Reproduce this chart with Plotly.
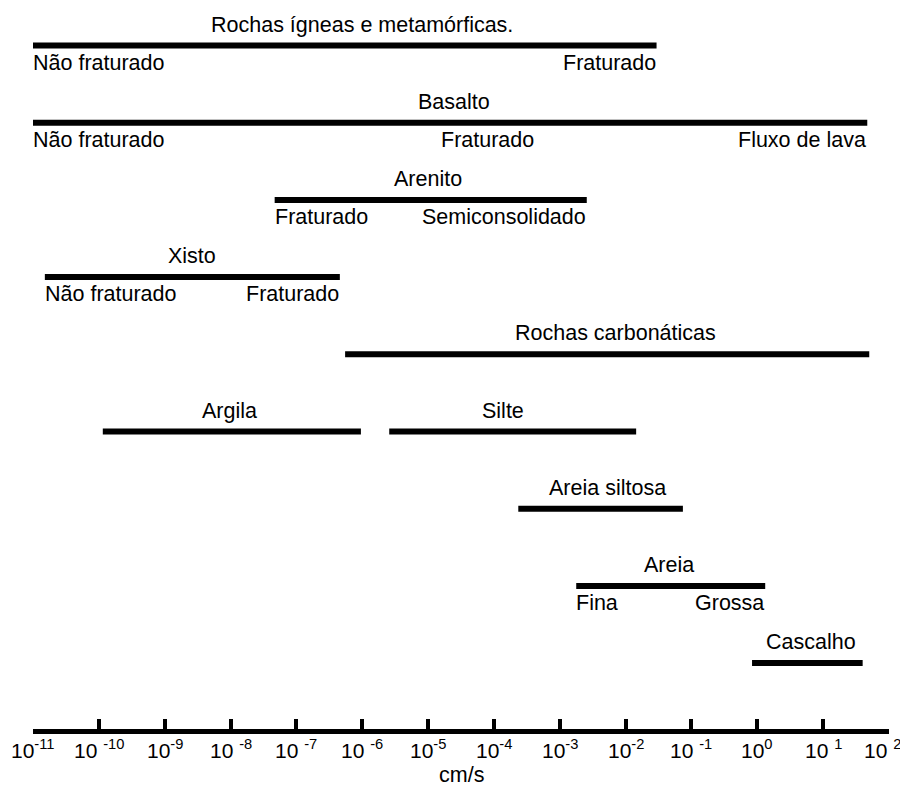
import plotly.graph_objects as go

# Hydraulic conductivity ranges (exponent of 10, cm/s) for each material
materials = ["Rochas ígneas e metamórficas.", "Basalto", "Arenito", "Xisto",
             "Rochas carbonáticas", "Argila", "Silte", "Areia siltosa",
             "Areia", "Cascalho"]
rows = [0, 1, 2, 3, 4, 5, 5, 6, 7, 8]
low_exp = [-11.0, -11.0, -7.33, -10.82, -6.26, -9.94, -5.59, -3.63, -2.75, -0.08]
high_exp = [-1.53, 1.67, -2.59, -6.34, 1.70, -6.02, -1.84, -1.13, 0.12, 1.60]
name_exp = [-6.0, -4.6, -5.0, -8.59, -2.16, -8.02, -3.86, -2.27, -1.34, 0.81]

# Descriptive sub-labels under some ranges: row, position (exponent), text, alignment
sub_rows = [0, 0, 1, 1, 1, 2, 2, 3, 3, 7, 7]
sub_exp = [-11.0, -1.53, -11.0, -4.10, 1.67, -7.33, -2.59, -10.82, -6.34, -2.75, 0.12]
sub_text = ["Não fraturado", "Fraturado", "Não fraturado", "Fraturado", "Fluxo de lava",
            "Fraturado", "Semiconsolidado", "Não fraturado", "Fraturado", "Fina", "Grossa"]
sub_align = ["left", "right", "left", "center", "right",
             "left", "right", "left", "right", "left", "right"]

# Axis ticks
tick_exp = list(range(-11, 3))
tick_text = ["10<sup>-11</sup>", "10 <sup>-10</sup>", "10<sup>-9</sup>", "10 <sup>-8</sup>",
             "10 <sup>-7</sup>", "10 <sup>-6</sup>", "10<sup>-5</sup>", "10<sup>-4</sup>",
             "10<sup>-3</sup>", "10<sup>-2</sup>", "10 <sup>-1</sup>", "10<sup>0</sup>",
             "10 <sup>1</sup>", "10 <sup>2</sup>"]
axis_title = "cm/s"

FONT = "Arial, Liberation Sans, sans-serif"
FS = 21.5
MARGIN_B = 60
HEIGHT = 789

fig = go.Figure()
for lo, hi, r in zip(low_exp, high_exp, rows):
    fig.add_trace(go.Scatter(
        x=[10 ** lo, 10 ** hi], y=[r, r], mode="lines",
        line=dict(color="black", width=6), hoverinfo="skip", showlegend=False))

annotations = []
for name, r, ex in zip(materials, rows, name_exp):
    annotations.append(dict(x=ex, y=r, xref="x", yref="y", text=name, showarrow=False,
                            xanchor="center", yanchor="middle", yshift=21,
                            font=dict(family=FONT, size=FS, color="black")))
for r, ex, t, al in zip(sub_rows, sub_exp, sub_text, sub_align):
    nudge = {"left": -2, "right": 1, "center": 0}[al]
    annotations.append(dict(x=ex, y=r, xref="x", yref="y", text=t, showarrow=False,
                            xanchor=al, yanchor="middle", yshift=-17, xshift=nudge,
                            font=dict(family=FONT, size=FS, color="black")))

# Tick labels placed under each tick; the last one is kept inside the page
for i, (ex, t) in enumerate(zip(tick_exp, tick_text)):
    shift = -7 if i == len(tick_exp) - 1 else 0
    annotations.append(dict(x=ex, y=0, xref="x", yref="paper", text=t, showarrow=False,
                            xanchor="center", yanchor="middle", yshift=-20, xshift=shift,
                            font=dict(family=FONT, size=21, color="black")))

annotations.append(dict(x=0.5, y=0, xref="paper", yref="paper", text=axis_title,
                        showarrow=False, xanchor="center", yanchor="bottom",
                        yshift=-MARGIN_B,
                        font=dict(family=FONT, size=FS, color="black")))

plot_bottom = HEIGHT - MARGIN_B
fig.update_layout(
    width=900, height=HEIGHT,
    margin=dict(l=33, r=11, t=0, b=MARGIN_B),
    paper_bgcolor="white", plot_bgcolor="white",
    annotations=annotations,
    xaxis=dict(type="log", range=[-11, 2],
               tickvals=[10 ** e for e in tick_exp], showticklabels=False,
               showline=True, linecolor="black", linewidth=5,
               ticks="inside", ticklen=10, tickwidth=4, tickcolor="black",
               showgrid=False, zeroline=False),
    yaxis=dict(range=[(plot_bottom - 45.5) / 77.2, -45.5 / 77.2],
               visible=False, showgrid=False, zeroline=False),
)

fig.write_html("out.html")
